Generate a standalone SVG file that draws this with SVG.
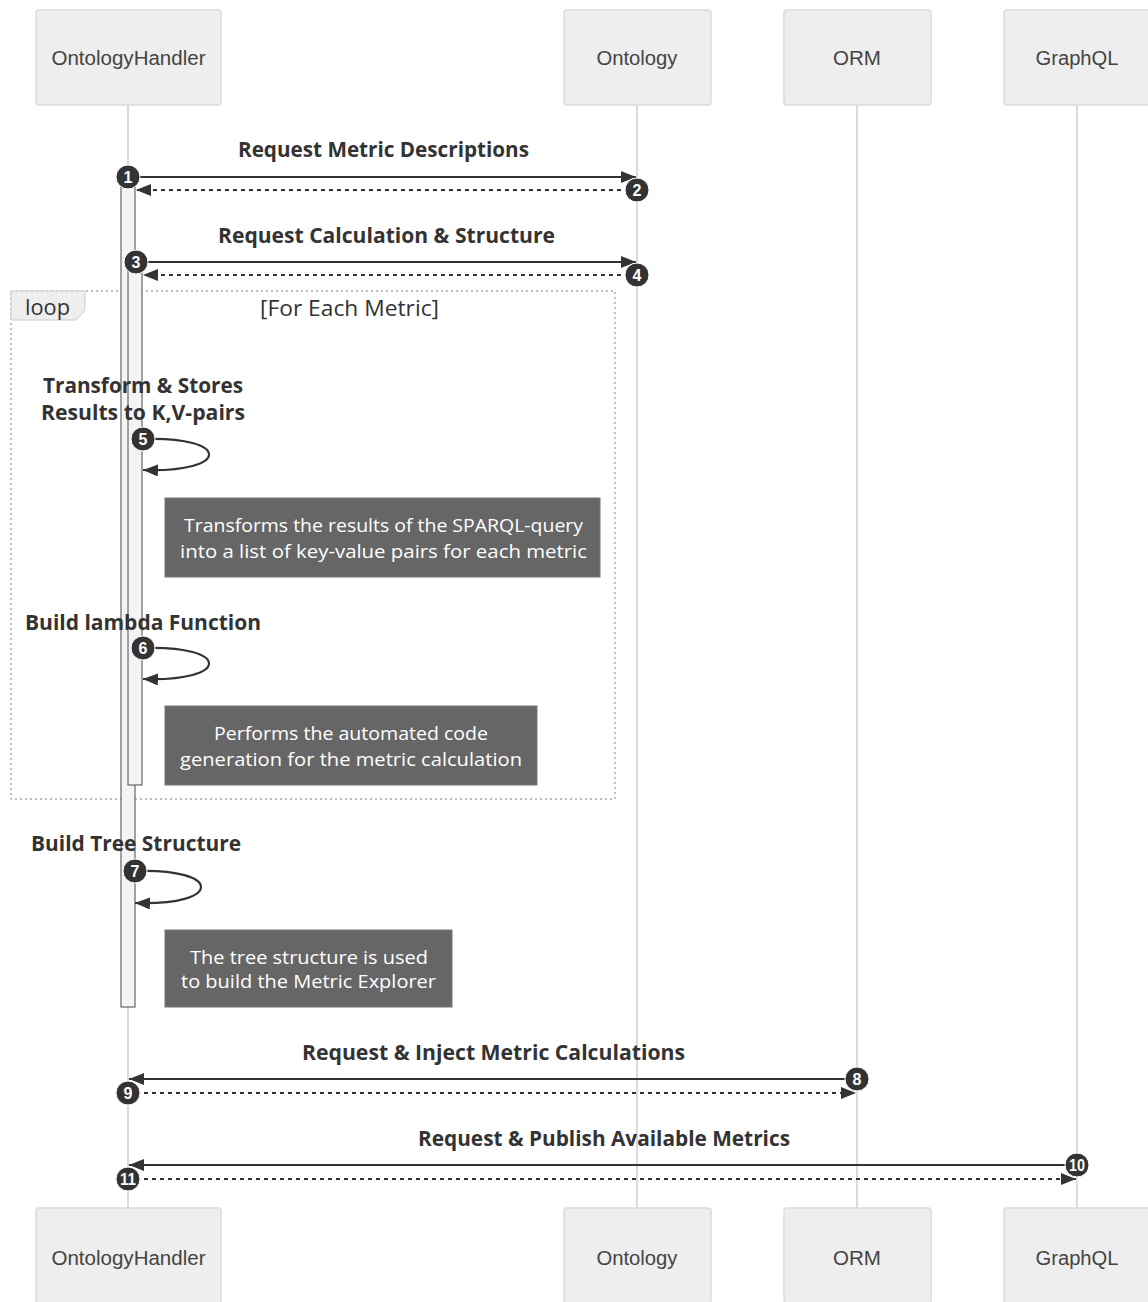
<svg xmlns="http://www.w3.org/2000/svg" width="1148" height="1302" viewBox="0 0 1148 1302">
<defs>
<style>
.actor rect{fill:#eeeeee;stroke:#dcdcdc;stroke-width:1.5}
.actor text{font-family:"Liberation Sans",Arial,sans-serif;font-size:20px;fill:#444;text-anchor:middle}
.life{stroke:#cfcfcf;stroke-width:1.5}
.act{fill:#f4f4f4;stroke:#666;stroke-width:1.2}
.msg{stroke:#333;stroke-width:2.2;fill:none}
.dash{stroke-dasharray:4,4}
.lbl{font-family:"Open Sans","DejaVu Sans",sans-serif;font-weight:bold;font-size:22px;fill:#333;text-anchor:middle}
.num circle{fill:#333;stroke:#fff;stroke-width:1}
.num text{font-family:"Liberation Sans",Arial,sans-serif;font-weight:bold;font-size:16px;fill:#fff;text-anchor:middle}
.note rect{fill:#666666;stroke:#777;stroke-width:1}
.note text{font-family:"Open Sans","DejaVu Sans",sans-serif;font-size:19px;fill:#fff;text-anchor:middle}
.loopbox{fill:none;stroke:#aaa;stroke-width:1.5;stroke-dasharray:2,3}
.looplbl{fill:#eee;stroke:#ccc;stroke-width:1}
.looptxt{font-family:"Open Sans","DejaVu Sans",sans-serif;font-size:21px;fill:#333}
</style>
<marker id="ah" viewBox="0 0 15 12" refX="15" refY="6" markerWidth="15" markerHeight="12" markerUnits="userSpaceOnUse" orient="auto">
<path d="M0,0 L15,6 L0,12 z" fill="#333"/>
</marker>
</defs>
<rect x="0" y="0" width="1148" height="1302" fill="#ffffff"/>

<g id="lifelines">
<line class="life" x1="128" y1="105" x2="128" y2="1208"/>
<line class="life" x1="637" y1="105" x2="637" y2="1208"/>
<line class="life" x1="857" y1="105" x2="857" y2="1208"/>
<line class="life" x1="1077" y1="105" x2="1077" y2="1208"/>
</g>

<g id="actor-OntologyHandler-top" class="actor"><rect x="36" y="10" width="185" height="95" rx="3"/><text x="128.5" y="65" textLength="154" lengthAdjust="spacingAndGlyphs">OntologyHandler</text></g>
<g id="actor-Ontology-top" class="actor"><rect x="564" y="10" width="147" height="95" rx="3"/><text x="637" y="65" textLength="81" lengthAdjust="spacingAndGlyphs">Ontology</text></g>
<g id="actor-ORM-top" class="actor"><rect x="784" y="10" width="147" height="95" rx="3"/><text x="857" y="65" textLength="48" lengthAdjust="spacingAndGlyphs">ORM</text></g>
<g id="actor-GraphQL-top" class="actor"><rect x="1004" y="10" width="147" height="95" rx="3"/><text x="1077" y="65" textLength="83" lengthAdjust="spacingAndGlyphs">GraphQL</text></g>

<g id="actor-OntologyHandler-bottom" class="actor"><rect x="36" y="1208" width="185" height="95" rx="3"/><text x="128.5" y="1265" textLength="154" lengthAdjust="spacingAndGlyphs">OntologyHandler</text></g>
<g id="actor-Ontology-bottom" class="actor"><rect x="564" y="1208" width="147" height="95" rx="3"/><text x="637" y="1265" textLength="81" lengthAdjust="spacingAndGlyphs">Ontology</text></g>
<g id="actor-ORM-bottom" class="actor"><rect x="784" y="1208" width="147" height="95" rx="3"/><text x="857" y="1265" textLength="48" lengthAdjust="spacingAndGlyphs">ORM</text></g>
<g id="actor-GraphQL-bottom" class="actor"><rect x="1004" y="1208" width="147" height="95" rx="3"/><text x="1077" y="1265" textLength="83" lengthAdjust="spacingAndGlyphs">GraphQL</text></g>

<g id="loop">
<rect class="loopbox" x="11" y="291" width="604" height="508"/>
<polygon class="looplbl" points="11,291 85,291 85,310 76,320 11,320"/>
<text class="looptxt" x="25" y="315" textLength="45" lengthAdjust="spacingAndGlyphs">loop</text>
<text class="looptxt" x="349.5" y="316" text-anchor="middle" textLength="179" lengthAdjust="spacingAndGlyphs">[For Each Metric]</text>
</g>

<g id="activations">
<rect class="act" x="121" y="177" width="14" height="830"/>
<rect class="act" x="128" y="262" width="14" height="523"/>
</g>

<g id="connectors">
<line class="msg" x1="128" y1="177" x2="636" y2="177" marker-end="url(#ah)"/>
<line class="msg dash" x1="637" y1="190" x2="136" y2="190" marker-end="url(#ah)"/>
<line class="msg" x1="136" y1="262" x2="636" y2="262" marker-end="url(#ah)"/>
<line class="msg dash" x1="637" y1="275" x2="143" y2="275" marker-end="url(#ah)"/>
<path class="msg" d="M143,439 C231,436 231,473 143,470" marker-end="url(#ah)"/>
<path class="msg" d="M143,648 C231,645 231,682 143,679" marker-end="url(#ah)"/>
<path class="msg" d="M135,871 C223,868 223,906 135,903" marker-end="url(#ah)"/>
<line class="msg" x1="857" y1="1079" x2="129" y2="1079" marker-end="url(#ah)"/>
<line class="msg dash" x1="128" y1="1093" x2="856" y2="1093" marker-end="url(#ah)"/>
<line class="msg" x1="1077" y1="1165" x2="129" y2="1165" marker-end="url(#ah)"/>
<line class="msg dash" x1="128" y1="1179" x2="1076" y2="1179" marker-end="url(#ah)"/>
</g>

<g id="labels">
<text class="lbl" x="383.5" y="157" textLength="291" lengthAdjust="spacingAndGlyphs">Request Metric Descriptions</text>
<text class="lbl" x="386.5" y="243" textLength="337" lengthAdjust="spacingAndGlyphs">Request Calculation &amp; Structure</text>
<text class="lbl" x="143" y="393" textLength="200" lengthAdjust="spacingAndGlyphs">Transform &amp; Stores</text>
<text class="lbl" x="143" y="420" textLength="204" lengthAdjust="spacingAndGlyphs">Results to K,V-pairs</text>
<text class="lbl" x="143" y="630" textLength="236" lengthAdjust="spacingAndGlyphs">Build lambda Function</text>
<text class="lbl" x="136" y="851" textLength="210" lengthAdjust="spacingAndGlyphs">Build Tree Structure</text>
<text class="lbl" x="493.5" y="1060" textLength="383" lengthAdjust="spacingAndGlyphs">Request &amp; Inject Metric Calculations</text>
<text class="lbl" x="604" y="1146" textLength="372" lengthAdjust="spacingAndGlyphs">Request &amp; Publish Available Metrics</text>
</g>

<g id="note-1" class="note">
<rect x="165" y="498" width="435" height="79"/>
<text x="383.5" y="532" textLength="399" lengthAdjust="spacingAndGlyphs">Transforms the results of the SPARQL-query</text>
<text x="383.5" y="558" textLength="407" lengthAdjust="spacingAndGlyphs">into a list of key-value pairs for each metric</text>
</g>
<g id="note-2" class="note">
<rect x="165" y="706" width="372" height="79"/>
<text x="351" y="740" textLength="274" lengthAdjust="spacingAndGlyphs">Performs the automated code</text>
<text x="351" y="766" textLength="342" lengthAdjust="spacingAndGlyphs">generation for the metric calculation</text>
</g>
<g id="note-3" class="note">
<rect x="165" y="930" width="287" height="77"/>
<text x="309" y="964" textLength="238" lengthAdjust="spacingAndGlyphs">The tree structure is used</text>
<text x="308.5" y="988" textLength="255" lengthAdjust="spacingAndGlyphs">to build the Metric Explorer</text>
</g>

<g id="sequence-numbers" class="num">
<g><circle cx="128" cy="177" r="12"/><text x="128" y="183">1</text></g>
<g><circle cx="637" cy="190" r="12"/><text x="637" y="196">2</text></g>
<g><circle cx="136" cy="262" r="12"/><text x="136" y="268">3</text></g>
<g><circle cx="637" cy="275" r="12"/><text x="637" y="281">4</text></g>
<g><circle cx="143" cy="439" r="12"/><text x="143" y="445">5</text></g>
<g><circle cx="143" cy="648" r="12"/><text x="143" y="654">6</text></g>
<g><circle cx="135" cy="871" r="12"/><text x="135" y="877">7</text></g>
<g><circle cx="857" cy="1079" r="12"/><text x="857" y="1085">8</text></g>
<g><circle cx="128" cy="1093" r="12"/><text x="128" y="1099">9</text></g>
<g><circle cx="1077" cy="1165" r="12"/><text x="1077" y="1171" textLength="16" lengthAdjust="spacingAndGlyphs">10</text></g>
<g><circle cx="128" cy="1179" r="12"/><text x="128" y="1185" textLength="16" lengthAdjust="spacingAndGlyphs">11</text></g>
</g>
</svg>
